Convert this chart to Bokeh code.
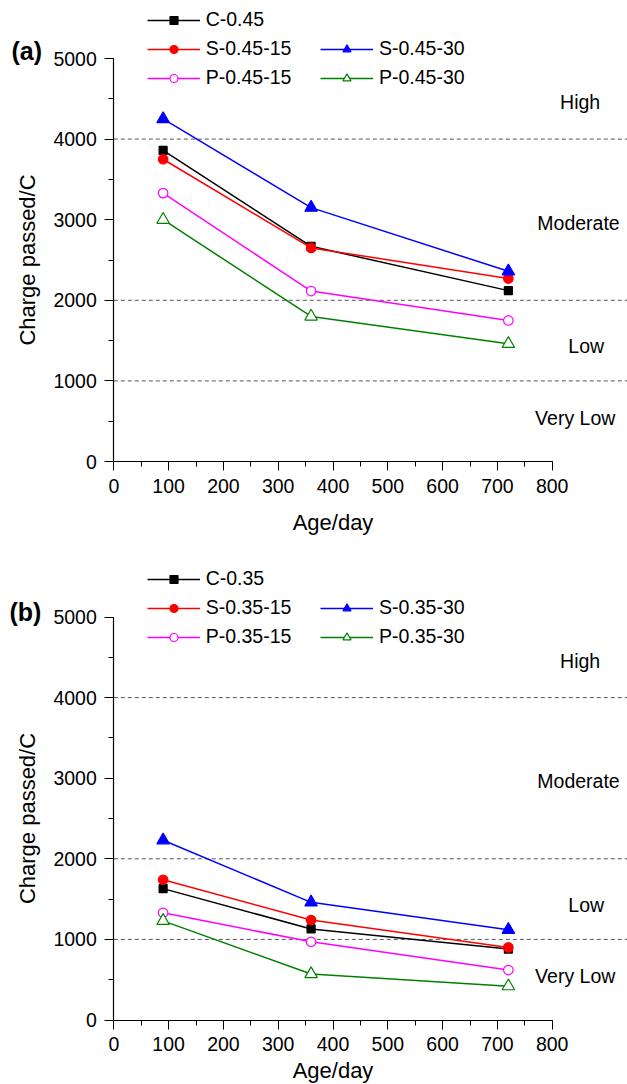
import math
from bokeh.plotting import figure
from bokeh.models import Range1d, Label, Legend, LegendItem, SingleIntervalTicker
from bokeh.layouts import column
from bokeh.embed import file_html
from bokeh.resources import INLINE
from bokeh.core.properties import value

# ---------------- data ----------------
days = [90, 360, 720]

a_names = ["C-0.45", "S-0.45-15", "S-0.45-30", "P-0.45-15", "P-0.45-30"]
a_C = [3860, 2670, 2120]
a_S15 = [3750, 2650, 2270]
a_S30 = [4250, 3150, 2360]
a_P15 = [3330, 2115, 1750]
a_P30 = [3000, 1800, 1460]

b_names = ["C-0.35", "S-0.35-15", "S-0.35-30", "P-0.35-15", "P-0.35-30"]
b_C = [1630, 1130, 880]
b_S15 = [1740, 1240, 900]
b_S30 = [2230, 1460, 1120]
b_P15 = [1330, 970, 620]
b_P30 = [1230, 570, 420]

limits = [1000, 2000, 4000]
band_labels = ["High", "Moderate", "Low", "Very Low"]
band_y = [4460, 2960, 1430, 540]
band_x = [851, 848, 862, 842]

x_min, x_max = 0, 800
y_min, y_max = 0, 5000

# ---------------- layout constants (pixels) ----------------
FONT = "Liberation Sans"
W = 627
X0_PX = 113.3            # page x of x=0
SX = (551.7 - 113.3) / (x_max - x_min)   # px per day
FH = 403.0               # frame height for 0..5000
SY = FH / (y_max - y_min)

styles = [
    dict(color="black", marker="square", size=8, fill="black"),
    dict(color="red", marker="circle", size=9.5, fill="red"),
    dict(color="blue", marker="triangle", size=12.5, fill="blue"),
    dict(color="magenta", marker="circle", size=9.5, fill="white"),
    dict(color="green", marker="triangle", size=12.5, fill="white"),
]


def make_panel(tag, tag_x, names, series, H, top_px, leg_bottom_px, tag_y_px, xlab_top_px):
    # top_px: canvas y of value 5000; bottom of axis = top_px + FH
    bottom_px = top_px + FH
    xr = Range1d(x_min - X0_PX / SX, x_min + (W - X0_PX) / SX)
    yr = Range1d(y_min - (H - bottom_px) / SY, y_max + top_px / SY)
    p = figure(width=W, height=H, x_range=xr, y_range=yr,
               output_backend="svg", toolbar_location=None, min_border=0)
    p.outline_line_color = None
    p.grid.visible = False

    # category limit lines
    p.segment(x0=[x_min] * len(limits), x1=[xr.end] * len(limits), y0=limits, y1=limits,
              line_color="#555555", line_dash="4 3", line_width=1)

    items = []
    for name, ys, st in zip(names, series, styles):
        lr = p.line(days, ys, line_color=st["color"], line_width=1.5)
        sr = p.scatter(days, ys, marker=st["marker"], size=st["size"],
                       fill_color=st["fill"], line_color=st["color"], line_width=1.2)
        items.append(LegendItem(label=name, renderers=[lr, sr]))

    common = dict(glyph_width=53, glyph_height=20, label_height=20, spacing=6,
                  padding=0, margin=0, label_standoff=6, border_line_color=None,
                  background_fill_alpha=0, label_text_font=FONT,
                  label_text_font_size="19.5px", label_text_color="black")
    vy = H - leg_bottom_px
    leg1 = Legend(items=[items[0], items[1], items[3]], location=(146.7, vy), **common)
    leg2 = Legend(items=[items[2], items[4]], location=(320, vy), **common)
    p.add_layout(leg1)
    p.add_layout(leg2)

    p.text(band_x, band_y, text=band_labels, text_font=value(FONT), text_font_size="19.5px",
           text_align="center", text_baseline="middle", text_color="black")

    # axes drawn at fixed data locations
    p.xaxis.fixed_location = y_min
    p.yaxis.fixed_location = x_min
    p.xaxis.bounds = (x_min, x_max)
    p.yaxis.bounds = (y_min, y_max)
    p.xaxis.ticker = SingleIntervalTicker(interval=100, num_minor_ticks=2)
    p.yaxis.ticker = SingleIntervalTicker(interval=1000, num_minor_ticks=2)
    for ax in (p.xaxis, p.yaxis):
        ax.axis_line_color = "black"
        ax.axis_line_width = 1.2
        ax.major_tick_line_color = "black"
        ax.minor_tick_line_color = "black"
        ax.major_tick_out = 9
        ax.major_tick_in = 0
        ax.minor_tick_out = 5
        ax.minor_tick_in = 0
        ax.major_label_text_font = FONT
        ax.major_label_text_font_size = "19.5px"
        ax.major_label_text_color = "black"
    p.xaxis.major_label_standoff = 8
    p.yaxis.major_label_standoff = 8

    # axis titles
    p.add_layout(Label(x=26.5, y=H - (top_px + bottom_px) / 2, x_units="screen", y_units="screen",
                       text="Charge passed/C", angle=math.pi / 2, text_font=FONT,
                       text_font_size="22px", text_align="center", text_baseline="middle",
                       text_color="black"))
    p.add_layout(Label(x=(x_min + x_max) / 2, y=H - xlab_top_px, x_units="data", y_units="screen",
                       text="Age/day", text_font=FONT, text_font_size="22px", text_align="center",
                       text_baseline="top", text_color="black"))
    # panel tag
    p.add_layout(Label(x=tag_x, y=H - tag_y_px, x_units="screen", y_units="screen", text=tag,
                       text_font=FONT, text_font_size="25px", text_font_style="bold",
                       text_align="left", text_baseline="middle", text_color="black"))
    return p


pa = make_panel("(a)", 11, a_names, [a_C, a_S15, a_S30, a_P15, a_P30],
                H=558, top_px=58, leg_bottom_px=89, tag_y_px=50, xlab_top_px=509)
pb = make_panel("(b)", 9, b_names, [b_C, b_S15, b_S30, b_P15, b_P30],
                H=526, top_px=58.5, leg_bottom_px=90, tag_y_px=53, xlab_top_px=499)

layout = column(pa, pb, spacing=0)
open("out.html", "w").write(file_html(layout, INLINE))
